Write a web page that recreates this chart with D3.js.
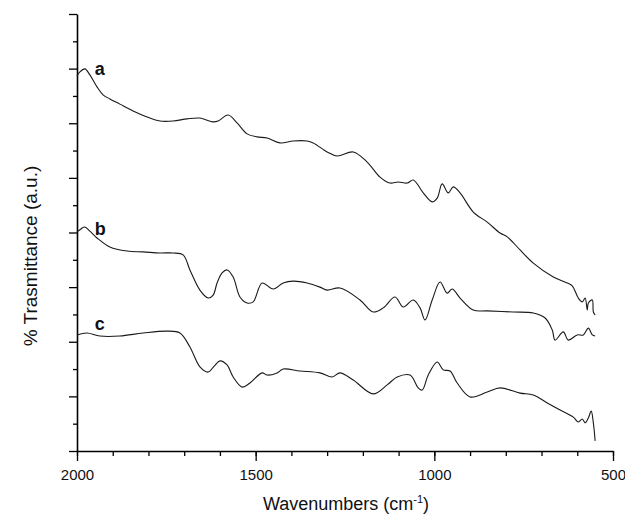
<!DOCTYPE html>
<html>
<head>
<meta charset="utf-8">
<script src="https://cdn.jsdelivr.net/npm/d3@7"></script>
<style>
  body { margin: 0; background: #fff; }
  svg { display: block; font-family: Arial, "Liberation Sans", sans-serif; }
</style>
</head>
<body>
<div id="chart"></div>
<script>
// ------------------- //
// DATA
// ------------------- //

// spectrum a
var waveA  = [2000,1992,1978,1964,1944,1927,1908,1880,1843,1804,1768,1731,1692,1656,1619,1605,1577,1552,1524,1496,1468,1432,1395,1356,1339,1300,1272,1227,1188,1152,1124,1101,1076,1059,1031,1006,992,978,961,947,928,891,852,816,796,760,723,667,628,614,597,586,578,572,569,558,555,550]
var transA = [13.73,13.88,13.99,13.77,13.33,13.04,12.89,12.70,12.45,12.23,12.08,12.08,12.16,12.19,12.05,12.08,12.30,12.01,11.61,11.50,11.46,11.28,11.35,11.35,11.28,10.95,10.80,10.95,10.58,10.03,9.81,9.85,9.81,9.92,9.45,9.12,9.26,9.78,9.45,9.67,9.45,8.75,8.38,7.98,7.84,7.36,6.88,6.37,6.15,6.05,5.60,5.46,5.60,5.16,5.42,5.53,5.09,4.98]

// spectrum b
var waveB  = [2000,1989,1978,1964,1944,1908,1860,1815,1768,1731,1703,1684,1656,1633,1619,1608,1594,1580,1563,1544,1524,1507,1482,1451,1423,1395,1356,1320,1300,1264,1208,1171,1143,1110,1087,1059,1040,1026,1006,984,964,950,928,891,852,779,723,690,670,662,639,625,600,583,569,558,550]
var transB = [8.02,8.13,8.20,8.05,7.80,7.47,7.32,7.29,7.25,7.25,7.18,6.63,5.89,5.60,5.71,6.15,6.52,6.63,6.37,5.64,5.42,5.46,6.15,5.93,6.15,6.22,6.15,6.00,5.89,5.97,5.53,5.09,5.24,5.64,5.27,5.53,5.24,4.80,5.53,6.19,5.78,5.93,5.60,5.16,5.13,5.09,5.05,4.87,4.43,4.06,4.36,4.06,4.25,4.25,4.50,4.25,4.21]

// spectrum c
var waveC  = [2000,1972,1936,1880,1815,1748,1712,1684,1656,1633,1616,1600,1580,1563,1538,1516,1482,1468,1440,1423,1376,1320,1286,1264,1227,1171,1132,1104,1068,1045,1034,1017,992,975,956,936,900,852,816,760,723,684,648,611,597,586,578,569,561,555,550]
var transC = [4.25,4.32,4.21,4.21,4.32,4.39,4.32,3.81,3.08,2.89,3.11,3.30,3.15,2.71,2.34,2.49,2.86,2.78,2.86,3.00,2.93,2.86,2.71,2.86,2.60,2.09,2.42,2.71,2.78,2.31,2.23,2.78,3.26,2.97,2.93,2.49,1.98,2.16,2.31,2.12,2.05,1.76,1.50,1.24,1.06,1.17,1.03,1.21,1.46,1.03,0.37]

var seriesNames = ["a", "b", "c"]

// axis ticks
var xMajorTicks = [2000, 1500, 1000, 500]
var xMinorTicks = d3.range(2000, 499, -100)
var yMajorTicks = d3.range(0, 17, 2)
var yMinorTicks = d3.range(1, 16, 2)

// ------------------- //
// SVG
// ------------------- //
var W = 625, H = 517
var svg = d3.select("#chart")
  .append("svg")
    .attr("width", W)
    .attr("height", H)

var x = d3.scaleLinear()
    .domain([2000, 500])
    .range([77, 613])
var y = d3.scaleLinear()
    .domain([0, 16])
    .range([451, 14])

// ------------------- //
// AXES
// ------------------- //

// minor x ticks
svg.append("g")
    .attr("transform", "translate(0," + y(0) + ")")
    .call(d3.axisBottom(x).tickValues(xMinorTicks).tickSize(5).tickFormat(""))
    .call(function(g){ g.select(".domain").remove() })

// major x ticks + labels
var xAxis = svg.append("g")
    .attr("transform", "translate(0," + y(0) + ")")
    .call(d3.axisBottom(x).tickValues(xMajorTicks).tickSize(10).tickSizeOuter(0).tickPadding(8).tickFormat(d3.format("d")))
xAxis.selectAll("text")
    .style("font-size", "15px")
    .attr("fill", "#111")

// minor y ticks
svg.append("g")
    .attr("transform", "translate(" + x(2000) + ",0)")
    .call(d3.axisLeft(y).tickValues(yMinorTicks).tickSize(4).tickFormat(""))
    .call(function(g){ g.select(".domain").remove() })

// major y ticks
svg.append("g")
    .attr("transform", "translate(" + x(2000) + ",0)")
    .call(d3.axisLeft(y).tickValues(yMajorTicks).tickSize(8).tickSizeOuter(0).tickFormat(""))

svg.selectAll(".domain").attr("stroke-width", 1.6).attr("stroke", "#000")
svg.selectAll(".tick line").attr("stroke-width", 1.3).attr("stroke", "#000")

// axis titles
var xTitle = svg.append("text")
    .attr("x", 346)
    .attr("y", 510)
    .attr("text-anchor", "middle")
    .style("font-size", "18px")
    .attr("fill", "#111")
xTitle.append("tspan").text("Wavenumbers (cm")
xTitle.append("tspan").text("-1").attr("dy", -7).style("font-size", "11px")
xTitle.append("tspan").text(")").attr("dy", 7)

svg.append("text")
    .attr("transform", "translate(37,256) rotate(-90)")
    .attr("text-anchor", "middle")
    .style("font-size", "19px")
    .attr("fill", "#111")
    .text("% Trasmittance (a.u.)")

// ------------------- //
// SPECTRA
// ------------------- //
var line = d3.line()
    .x(function(d) { return x(d[0]) })
    .y(function(d) { return y(d[1]) })
    .curve(d3.curveCatmullRom.alpha(0.5))

var allSeries = [
  d3.zip(waveA, transA),
  d3.zip(waveB, transB),
  d3.zip(waveC, transC)
]

svg.selectAll(".spectrum")
  .data(allSeries)
  .enter()
  .append("path")
    .attr("class", "spectrum")
    .attr("d", line)
    .attr("fill", "none")
    .attr("stroke", "#1a1a1a")
    .attr("stroke-width", 1.1)

// curve labels, sitting just above each spectrum's start
var labelOffset = [0.04, -0.11, 0.18]
svg.selectAll(".curveLabel")
  .data(seriesNames)
  .enter()
  .append("text")
    .attr("class", "curveLabel")
    .attr("x", x(1950))
    .attr("y", function(d, i) { return y(allSeries[i][0][1] + labelOffset[i]) })
    .text(function(d) { return d })
    .style("font-size", "18px")
    .style("font-weight", "bold")
    .attr("fill", "#111")
</script>
</body>
</html>
